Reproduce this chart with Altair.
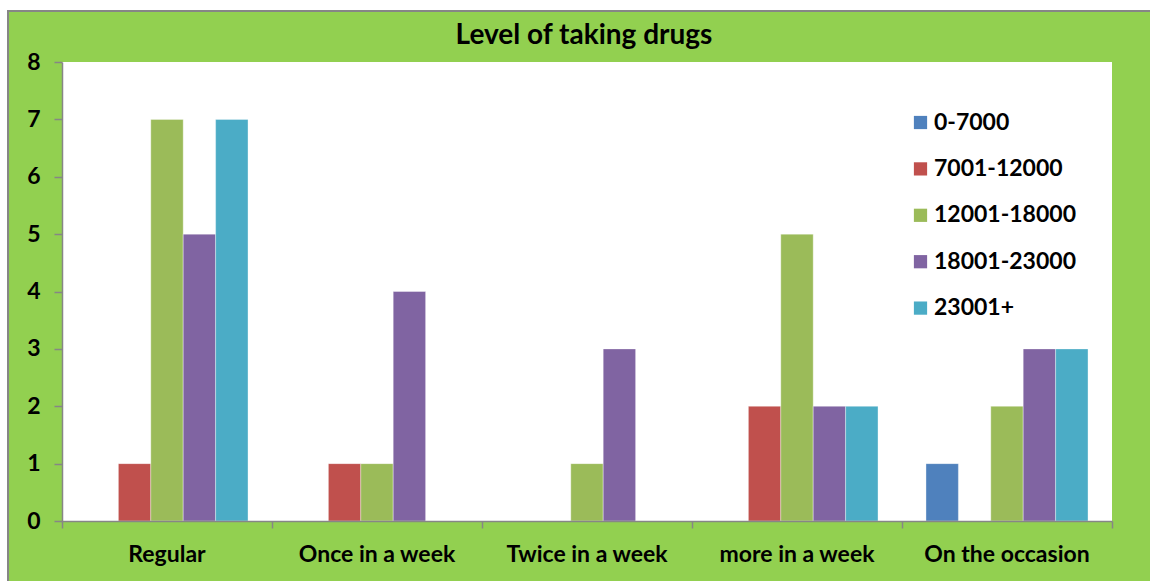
import altair as alt
import pandas as pd

# Frequency categories and income bands
categories = ["Regular", "Once in a week", "Twice in a week", "more in a week", "On the occasion"]
bands = ["0-7000", "7001-12000", "12001-18000", "18001-23000", "23001+"]

# Counts per category, one list per income band
band_0_7000 = [0, 0, 0, 0, 1]
band_7001_12000 = [1, 1, 0, 2, 0]
band_12001_18000 = [7, 1, 1, 5, 2]
band_18001_23000 = [5, 4, 3, 2, 3]
band_23001_plus = [7, 0, 0, 2, 3]

colors = ["#4F81BD", "#C0504D", "#9BBB59", "#8064A2", "#4BACC6"]
y_ticks = [0, 1, 2, 3, 4, 5, 6, 7, 8]
chart_title = "Level of taking drugs"

series = [band_0_7000, band_7001_12000, band_12001_18000, band_18001_23000, band_23001_plus]
rows = []
for band, values in zip(bands, series):
    for cat, v in zip(categories, values):
        rows.append({"category": cat, "band": band, "count": v})
df = pd.DataFrame(rows)

W, H = 1050, 459
FONT = "Lato"
FS = 23
GREEN = "#92D050"
GRAY = "#868686"

one = alt.Data(values=[{}])

# Green chart area with grey edge, then the white plotting area
frame = alt.Chart(one).mark_rect(fill=GREEN, stroke=GRAY, strokeWidth=2).encode(
    x=alt.value(-54), x2=alt.value(W + 200), y=alt.value(-51), y2=alt.value(H + 200)
)
plot_bg = alt.Chart(one).mark_rect(fill="white").encode(
    x=alt.value(0), x2=alt.value(W), y=alt.value(0), y2=alt.value(H)
)
title = alt.Chart(one).mark_text(
    text=chart_title,
    font=FONT,
    fontSize=28,
    fontWeight="bold",
    color="black",
    align="center",
    baseline="alphabetic",
).encode(x=alt.value(W / 2 - 3), y=alt.value(-18))

bars = alt.Chart(df).mark_bar(stroke="white", strokeWidth=0.6, strokeOpacity=0.6).encode(
    x=alt.X(
        "category:N",
        sort=categories,
        title=None,
        scale=alt.Scale(paddingInner=0, paddingOuter=0),
        axis=alt.Axis(
            bandPosition=1,
            tickExtra=True,
            labelAngle=0,
            labelFont=FONT,
            labelFontSize=FS,
            labelFontWeight="bold",
            labelColor="black",
            labelPadding=15,
            domainColor=GRAY,
            domainWidth=1.5,
            tickColor=GRAY,
            tickWidth=1.5,
            tickSize=7,
            zindex=1,
        ),
    ),
    xOffset=alt.XOffset(
        "band:N",
        sort=bands,
        scale=alt.Scale(paddingInner=0, paddingOuter=0.74),
    ),
    y=alt.Y(
        "count:Q",
        title=None,
        scale=alt.Scale(domain=[0, 8], nice=False),
        axis=alt.Axis(
            values=y_ticks,
            grid=False,
            labelFont=FONT,
            labelFontSize=FS,
            labelFontWeight="bold",
            labelColor="black",
            labelPadding=14,
            domainColor=GRAY,
            domainWidth=1.5,
            tickColor=GRAY,
            tickWidth=1.5,
            tickSize=8,
            zindex=1,
        ),
    ),
    color=alt.Color(
        "band:N",
        sort=bands,
        scale=alt.Scale(domain=bands, range=colors),
        legend=alt.Legend(
            title=None,
            orient="none",
            legendX=847,
            legendY=49,
            symbolType="square",
            symbolSize=175,
            symbolStrokeWidth=0,
            labelFont=FONT,
            labelFontSize=FS,
            labelFontWeight="bold",
            labelColor="black",
            labelOffset=2,
            rowPadding=22.4,
            padding=0,
            zindex=1,
        ),
    ),
)

chart = (
    alt.layer(frame, plot_bg, title, bars)
    .properties(
        width=W,
        height=H,
        background="white",
        autosize=alt.AutoSizeParams(type="none"),
        padding={"left": 62, "top": 62, "right": 38, "bottom": 60},
    )
    .configure_view(stroke=None)
)

chart.save("out.html", embed_options={"renderer": "svg", "actions": False})
